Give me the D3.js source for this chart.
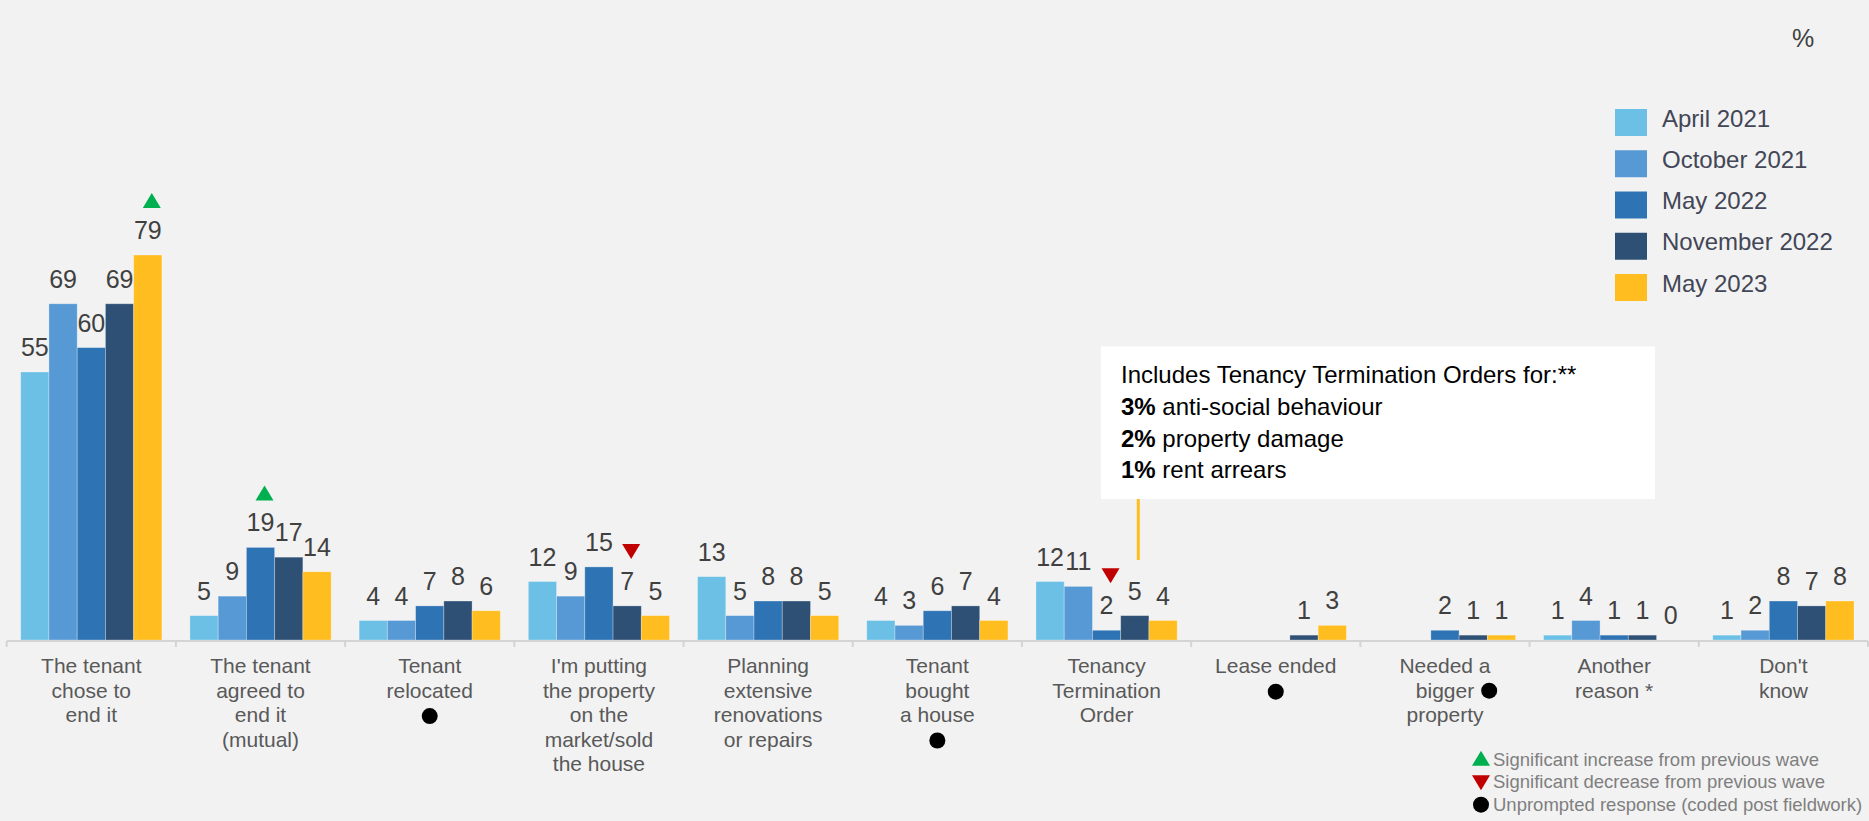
<!DOCTYPE html>
<html>
<head>
<meta charset="utf-8">
<script src="https://cdn.jsdelivr.net/npm/d3@7"></script>
<style>
  html, body { margin: 0; padding: 0; background: #f2f2f2; }
  svg { display: block; font-family: "Liberation Sans", Arial, sans-serif; }
</style>
</head>
<body>
<svg id="chart" width="1869" height="821"></svg>
<script>
// Reasons the last tenancy ended, by survey wave (%)
const categoryLabels = [
  ["The tenant", "chose to", "end it"],
  ["The tenant", "agreed to", "end it", "(mutual)"],
  ["Tenant", "relocated", "●"],
  ["I'm putting", "the property", "on the", "market/sold", "the house"],
  ["Planning", "extensive", "renovations", "or repairs"],
  ["Tenant", "bought", "a house", "●"],
  ["Tenancy", "Termination", "Order"],
  ["Lease ended", "●"],
  ["Needed a", "bigger ●", "property"],
  ["Another", "reason *"],
  ["Don't", "know"]
];
const seriesNames = ["April 2021", "October 2021", "May 2022", "November 2022", "May 2023"];
const seriesColors = ["#6cc0e5", "#5799d4", "#2e74b5", "#2f5075", "#ffbd1f"];

const april2021    = [55, 5, 4, 12, 13, 4, 12, null, null, 1, 1];
const october2021  = [69, 9, 4, 9, 5, 3, 11, null, null, 4, 2];
const may2022      = [60, 19, 7, 15, 8, 6, 2, null, 2, 1, 8];
const november2022 = [69, 17, 8, 7, 8, 7, 5, 1, 1, 1, 7];
const may2023      = [79, 14, 6, 5, 5, 4, 4, 3, 1, 0, 8];
const seriesValues = [april2021, october2021, may2022, november2022, may2023];

// Significance flags: category index, series index, direction
const significance = [
  { cat: 0, series: 4, dir: "up" },
  { cat: 1, series: 2, dir: "up" },
  { cat: 3, series: 3, dir: "down" },
  { cat: 6, series: 2, dir: "down" }
];

const noteLines = [
  { bold: "", text: "Includes Tenancy Termination Orders for:**" },
  { bold: "3%", text: " anti-social behaviour" },
  { bold: "2%", text: " property damage" },
  { bold: "1%", text: " rent arrears" }
];

const keyItems = [
  { symbol: "up", text: "Significant increase from previous wave" },
  { symbol: "down", text: "Significant decrease from previous wave" },
  { symbol: "dot", text: "Unprompted response (coded post fieldwork)" }
];

const svg = d3.select("#chart");
const catIdx = d3.range(categoryLabels.length);

const x = d3.scaleBand().domain(catIdx).range([6.7, 1868]).padding(0);
const xs = d3.scaleBand().domain(d3.range(seriesNames.length))
  .range([14, x.bandwidth() - 14]).padding(0);
const y = d3.scaleLinear().domain([0, 100]).range([640, 152.7]);

const GREEN = "#00b050", RED = "#c00000";

// Bars
const rows = [];
catIdx.forEach(c => seriesValues.forEach((vals, s) => {
  rows.push({ c, s, v: vals[c] });
}));

svg.append("g").selectAll("rect")
  .data(rows.filter(d => d.v != null && d.v > 0))
  .join("rect")
  .attr("x", d => x(d.c) + xs(d.s))
  .attr("y", d => y(d.v))
  .attr("width", xs.bandwidth())
  .attr("height", d => y(0) - y(d.v))
  .attr("fill", d => seriesColors[d.s])
  .attr("stroke", "rgba(255,255,255,0.35)")
  .attr("stroke-width", 0.8);

// Value labels
svg.append("g").selectAll("text")
  .data(rows.filter(d => d.v != null))
  .join("text")
  .attr("x", d => x(d.c) + xs(d.s) + xs.bandwidth() / 2)
  .attr("y", d => y(d.v) - 16)
  .attr("text-anchor", "middle")
  .attr("font-size", 25)
  .attr("fill", "#404040")
  .text(d => d.v);

// Axis line and category boundary ticks
const axis = svg.append("g");
axis.append("line")
  .attr("x1", x.range()[0]).attr("x2", x.range()[1])
  .attr("y1", y(0) + 1).attr("y2", y(0) + 1)
  .attr("stroke", "#d4d4d4").attr("stroke-width", 2);
axis.selectAll("line.tick")
  .data(catIdx.concat([categoryLabels.length]))
  .join("line")
  .attr("class", "tick")
  .attr("x1", i => i < categoryLabels.length ? x(i) : x.range()[1])
  .attr("x2", i => i < categoryLabels.length ? x(i) : x.range()[1])
  .attr("y1", y(0) + 1).attr("y2", y(0) + 7)
  .attr("stroke", "#d4d4d4").attr("stroke-width", 2);

// Category labels (with unprompted-response dots)
const firstBase = y(0) + 33.3, lineH = 24.4;
catIdx.forEach(c => {
  const cx = x(c) + x.bandwidth() / 2;
  categoryLabels[c].forEach((line, i) => {
    const base = firstBase + i * lineH;
    if (line === "●") {
      svg.append("circle").attr("cx", cx).attr("cy", base - 6).attr("r", 8).attr("fill", "#000");
    } else if (line.endsWith(" ●")) {
      const t = svg.append("text")
        .attr("x", cx).attr("y", base)
        .attr("text-anchor", "middle")
        .attr("font-size", 21).attr("fill", "#595959")
        .text(line.slice(0, -2));
      const w = t.node().getComputedTextLength();
      svg.append("circle").attr("cx", cx + w / 2 + 15).attr("cy", base - 7).attr("r", 8).attr("fill", "#000");
    } else {
      svg.append("text")
        .attr("x", cx).attr("y", base)
        .attr("text-anchor", "middle")
        .attr("font-size", 21).attr("fill", "#595959")
        .text(line);
    }
  });
});

// Significance triangles
function triPath(cx, bottom, dir) {
  const w = 18, h = 15;
  if (dir === "up") return `M${cx - w / 2},${bottom} L${cx + w / 2},${bottom} L${cx},${bottom - h} Z`;
  return `M${cx - w / 2},${bottom - h} L${cx + w / 2},${bottom - h} L${cx},${bottom} Z`;
}
svg.append("g").selectAll("path")
  .data(significance)
  .join("path")
  .attr("d", d => {
    const v = seriesValues[d.series][d.cat];
    const cx = x(d.cat) + xs(d.series) + xs.bandwidth() / 2 + 4;
    return triPath(cx, y(v) - 47, d.dir);
  })
  .attr("fill", d => d.dir === "up" ? GREEN : RED);

// Series legend
const legend = svg.append("g").attr("transform", "translate(1615,109)");
const li = legend.selectAll("g").data(seriesNames).join("g")
  .attr("transform", (d, i) => `translate(0,${i * 41.25})`);
li.append("rect").attr("width", 32).attr("height", 27).attr("fill", (d, i) => seriesColors[i]);
li.append("text").attr("x", 47).attr("y", 17.7)
  .attr("font-size", 24).attr("fill", "#424656").text(d => d);

// Unit marker
svg.append("text").attr("x", 1792).attr("y", 46.7)
  .attr("font-size", 25).attr("fill", "#404040").text("%");

// Tenancy Termination Order note with connector
const noteX = x(6) + xs(3) + xs.bandwidth() / 2 + 3.5;
svg.append("line")
  .attr("x1", noteX).attr("x2", noteX)
  .attr("y1", 499).attr("y2", 560)
  .attr("stroke", "#ffbd1f").attr("stroke-width", 3);
svg.append("rect").attr("x", 1101).attr("y", 346.5).attr("width", 554).attr("height", 152.5).attr("fill", "#ffffff");
const note = svg.append("text").attr("font-size", 24).attr("fill", "#000");
noteLines.forEach((l, i) => {
  const t = note.append("tspan").attr("x", 1121).attr("y", 383.3 + i * 31.7);
  if (l.bold) {
    t.append("tspan").attr("font-weight", "bold").text(l.bold);
    note.append("tspan").text(l.text);
  } else {
    t.text(l.text);
  }
});

// Symbol key (bottom right)
const key = svg.append("g").attr("transform", "translate(1481,0)");
keyItems.forEach((k, i) => {
  const base = 765.7 + i * 22.5;
  if (k.symbol === "dot") {
    key.append("circle").attr("cx", 0).attr("cy", base - 6).attr("r", 8).attr("fill", "#000");
  } else {
    key.append("path")
      .attr("d", k.symbol === "up" ? triPath(0, base, "up") : triPath(0, base + 2, "down"))
      .attr("fill", k.symbol === "up" ? GREEN : RED);
  }
  key.append("text").attr("x", 12).attr("y", base)
    .attr("font-size", 18.5).attr("fill", "#7f7f7f").text(k.text);
});
</script>
</body>
</html>
